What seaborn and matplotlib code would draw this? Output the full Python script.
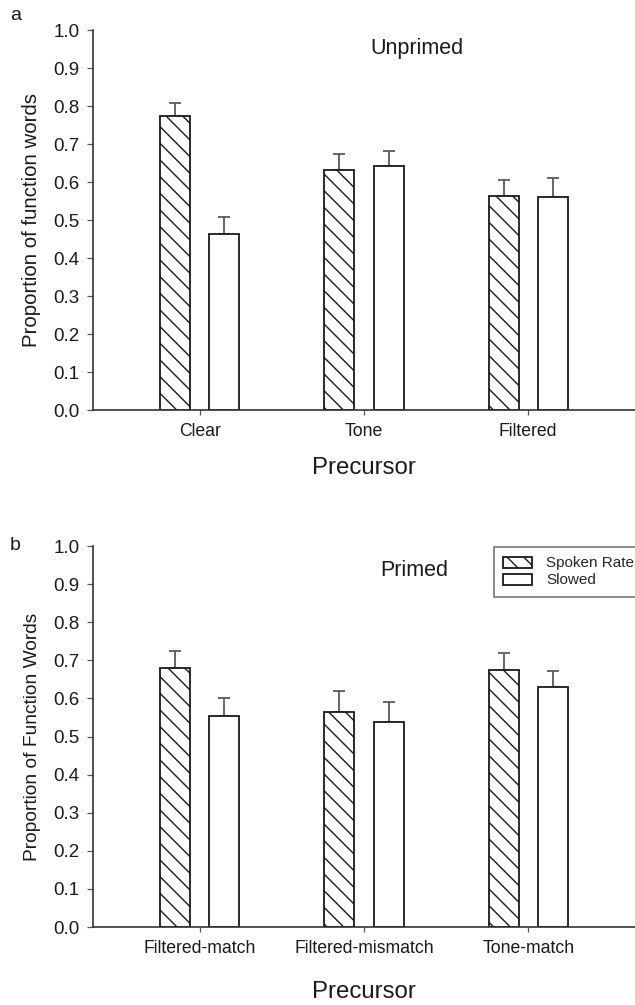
import numpy as np
import pandas as pd
import seaborn as sns
import matplotlib.pyplot as plt

# values
rates = ["Spoken Rate", "Slowed"]

unprimed_cats = ["Clear", "Tone", "Filtered"]
unprimed_spoken = [0.775, 0.633, 0.563]
unprimed_slowed = [0.463, 0.643, 0.561]
unprimed_spoken_err = [0.034, 0.042, 0.043]
unprimed_slowed_err = [0.046, 0.039, 0.050]

primed_cats = ["Filtered-match", "Filtered-mismatch", "Tone-match"]
primed_spoken = [0.681, 0.564, 0.675]
primed_slowed = [0.553, 0.539, 0.630]
primed_spoken_err = [0.044, 0.055, 0.044]
primed_slowed_err = [0.048, 0.053, 0.043]

sns.set_style("ticks")
plt.rcParams["font.family"] = ["Liberation Sans", "DejaVu Sans"]
plt.rcParams["hatch.linewidth"] = 1.0
plt.rcParams["hatch.color"] = "#1a1a1a"

fig = plt.figure(figsize=(6.35, 10.05), dpi=100)
ax1 = fig.add_axes([0.1465, 0.592, 0.8535, 0.378])
ax2 = fig.add_axes([0.1465, 0.0776, 0.8535, 0.379])


def panel(ax, cats, spoken, slowed, err_sp, err_sl, ylab, ylab_size, title, tx, ty):
    df = pd.DataFrame({
        "Precursor": cats * 2,
        "prop": spoken + slowed,
        "rate": [rates[0]] * len(cats) + [rates[1]] * len(cats),
    })
    sns.barplot(data=df, x="Precursor", y="prop", hue="rate",
                palette=["white", "white"], edgecolor="#1a1a1a", linewidth=1.3,
                width=0.6, gap=0.39, errorbar=None, legend=False, ax=ax,
                saturation=1)
    for bar in ax.containers[0]:
        bar.set_hatch("\\\\")
    for cont, errs in zip(ax.containers, [err_sp, err_sl]):
        xs = [p.get_x() + p.get_width() / 2 for p in cont]
        ys = [p.get_height() for p in cont]
        ax.errorbar(xs, ys, yerr=[np.zeros(len(errs)), errs], fmt="none",
                    ecolor="#5a5a5a", elinewidth=1.3, capsize=4.3,
                    capthick=1.3, zorder=0.5)
    ax.set_xlim(-0.65, 2.65)
    ax.set_ylim(0, 1.0)
    ax.set_yticks(np.arange(0, 1.01, 0.1))
    ax.set_yticklabels([f"{v:.1f}" for v in np.arange(0, 1.01, 0.1)])
    for s in ["top", "right"]:
        ax.spines[s].set_visible(False)
    for s in ["left", "bottom"]:
        ax.spines[s].set_color("#333333")
        ax.spines[s].set_linewidth(1.2)
    ax.tick_params(axis="y", length=4.5, width=0.9, color="#555555",
                   labelsize=13.5, pad=5, labelcolor="#1a1a1a")
    ax.tick_params(axis="x", length=3.5, width=0.9, color="#555555",
                   labelsize=12.7, pad=6, labelcolor="#1a1a1a")
    ax.set_ylabel(ylab, fontsize=ylab_size, color="#1a1a1a", labelpad=9)
    ax.text(tx, ty, title, transform=ax.transAxes, ha="center", va="center",
            fontsize=15.5, color="#1a1a1a")


panel(ax1, unprimed_cats, unprimed_spoken, unprimed_slowed,
      unprimed_spoken_err, unprimed_slowed_err,
      "Proportion of function words", 14.7, "Unprimed", 0.597, 0.953)
ax1.set_xlabel("Precursor", fontsize=17.3, color="#1a1a1a", labelpad=12)

panel(ax2, primed_cats, primed_spoken, primed_slowed,
      primed_spoken_err, primed_slowed_err,
      "Proportion of Function Words", 13.8, "Primed", 0.593, 0.937)
ax2.set_xlabel("Precursor", fontsize=17.3, color="#1a1a1a", labelpad=17)

leg = ax2.legend(handles=[ax2.containers[0][0], ax2.containers[1][0]],
                 labels=rates, loc="upper left", bbox_to_anchor=(0.74, 0.997),
                 borderaxespad=0, fontsize=11, frameon=True, fancybox=False,
                 handlelength=1.9, handleheight=0.75, handletextpad=0.9,
                 labelspacing=0.2, borderpad=0.6)
leg.get_frame().set_edgecolor("#555555")
leg.get_frame().set_linewidth(1.2)

fig.text(0.024, 0.985, "a", fontsize=14, ha="center", va="center", color="#1a1a1a")
fig.text(0.024, 0.457, "b", fontsize=14, ha="center", va="center", color="#1a1a1a")

fig.savefig("out.png", dpi=100)
